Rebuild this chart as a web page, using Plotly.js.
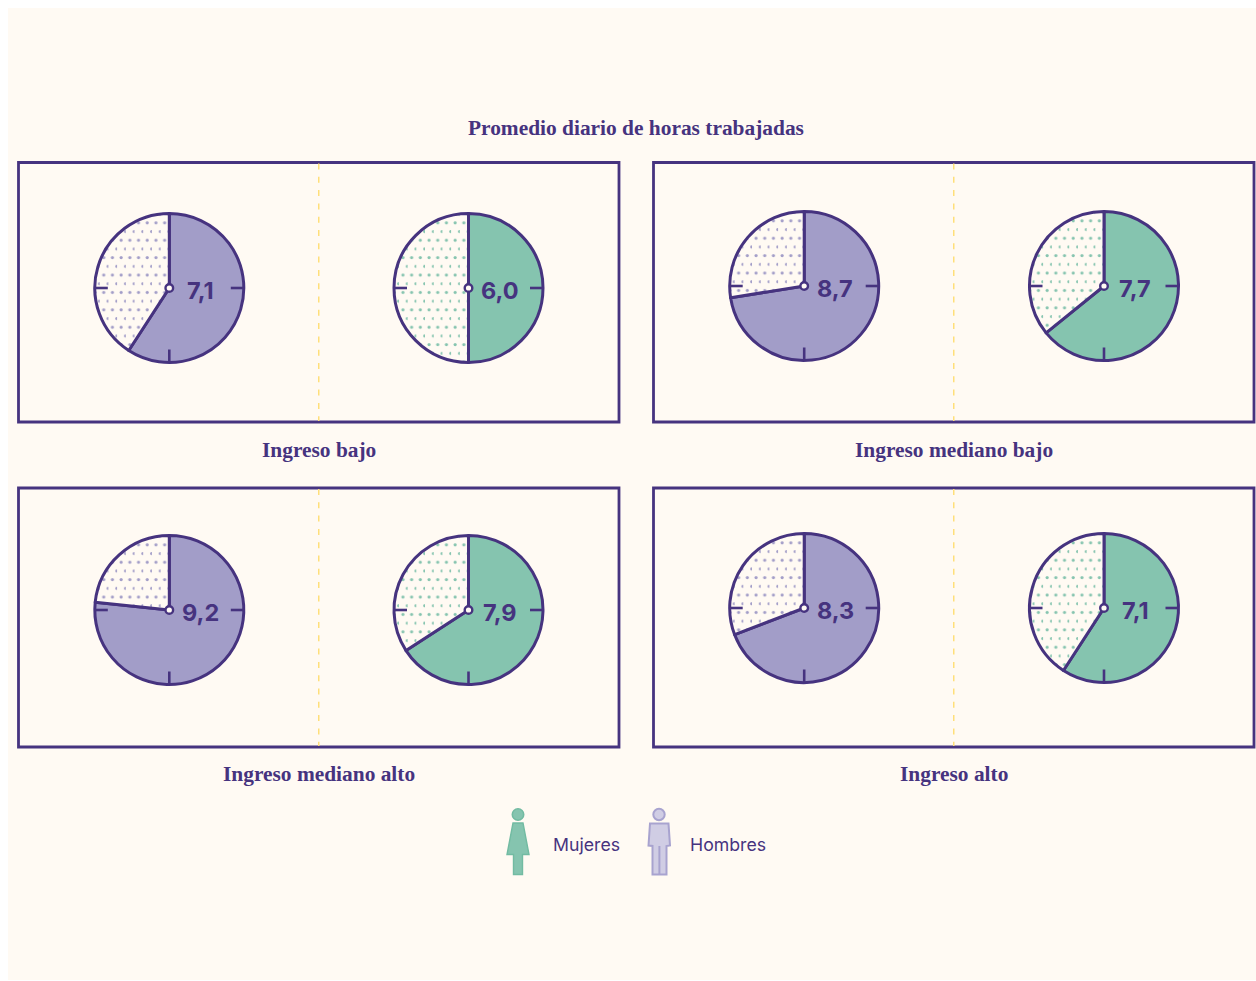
<!DOCTYPE html>
<html lang="es">
<head>
<meta charset="utf-8">
<title>Promedio diario de horas trabajadas</title>
<script src="https://cdn.plot.ly/plotly-3.0.1.min.js"></script>
<style>html,body{margin:0;padding:0;background:#fff}</style>
</head>
<body>
<div id="chart" style="width:1256px;height:981px"></div>
<script>
// Hours worked per day, by income group
const groups = ['Ingreso bajo', 'Ingreso mediano bajo', 'Ingreso mediano alto', 'Ingreso alto'];
const menHours = [7.1, 8.7, 9.2, 8.3];
const womenHours = [6.0, 7.7, 7.9, 7.1];
const hoursOnDial = 12;
const chartTitle = 'Promedio diario de horas trabajadas';
const legendLabels = ['Mujeres', 'Hombres'];

// Page geometry, in pixels
const W = 1256, H = 981;
const PURPLE = '#46337f', LAVENDER = '#a29dc8', GREEN = '#85c4af', CREAM = '#fffaf3';
const panels = [
  {x0: 18.5, x1: 619, y0: 162.5, y1: 422, labelY: 449.5, men: [169.3, 288], women: [468.5, 288]},
  {x0: 653.5, x1: 1254, y0: 162.5, y1: 422, labelY: 449.5, men: [804.2, 286], women: [1104, 286]},
  {x0: 18.5, x1: 619, y0: 488, y1: 747, labelY: 773.5, men: [169.3, 610], women: [468.5, 610]},
  {x0: 653.5, x1: 1254, y0: 488, y1: 747, labelY: 773.5, men: [804.2, 608], women: [1104, 608]}
];
const R = 74.5;
const DOT_STEP = 8.7;
const SERIF = '"Liberation Serif", serif';
const SANS = '"Inter", sans-serif';

const px = x => x / W;
const py = y => 1 - y / H;
const paper = {xref: 'paper', yref: 'paper'};

const line = (x0, y0, x1, y1, color, width, dash) => ({
  type: 'line', ...paper, layer: 'above',
  x0: px(x0), x1: px(x1), y0: py(y0), y1: py(y1),
  line: {color, width, dash: dash || 'solid'}
});
const rect = (x0, y0, x1, y1, fill, stroke, width, layer) => ({
  type: 'rect', ...paper, layer: layer || 'below',
  x0: px(x0), x1: px(x1), y0: py(y0), y1: py(y1),
  fillcolor: fill, line: {color: stroke, width}
});
const circle = (cx, cy, r, fill, stroke, width) => ({
  type: 'circle', ...paper, layer: 'above',
  x0: px(cx - r), x1: px(cx + r), y0: py(cy - r), y1: py(cy + r),
  fillcolor: fill, line: {color: stroke, width}
});
const polygon = (pts, fill, stroke, width) => ({
  type: 'path', ...paper, layer: 'above',
  path: 'M' + pts.map(p => px(p[0]) + ',' + py(p[1])).join('L') + 'Z',
  fillcolor: fill, line: {color: stroke, width}
});
const text = (x, y, str, font, extra) => Object.assign({
  ...paper, x: px(x), y: py(y), text: str, showarrow: false,
  xanchor: 'center', yanchor: 'middle', font
}, extra || {});

const traces = [], shapes = [], annotations = [];

// Page background
shapes.push(rect(8, 8, W, 980, CREAM, CREAM, 0));

function addDial(center, hours, color) {
  const [cx, cy] = center;
  traces.push({
    type: 'pie',
    values: [hours, hoursOnDial - hours],
    sort: false,
    direction: 'clockwise',
    rotation: 0,
    textinfo: 'none',
    hoverinfo: 'skip',
    showlegend: false,
    domain: {x: [px(cx - R), px(cx + R)], y: [py(cy + R), py(cy - R)]},
    marker: {
      colors: [color, CREAM],
      line: {color: PURPLE, width: 3},
      pattern: {shape: ['', '.'], fgcolor: color, bgcolor: CREAM, size: DOT_STEP, solidity: 0.105, fillmode: 'replace'}
    }
  });
  // Ticks at 3, 6 and 9 o'clock
  shapes.push(line(cx + R - 13, cy, cx + R, cy, PURPLE, 2.6));
  shapes.push(line(cx, cy + R - 13, cx, cy + R, PURPLE, 2.6));
  shapes.push(line(cx - R, cy, cx - R + 13, cy, PURPLE, 2.6));
  // Hub
  shapes.push(circle(cx, cy, 3.8, CREAM, PURPLE, 2.4));
  // Value
  annotations.push(text(cx + 31, cy + 2, hours.toFixed(1).replace('.', ','),
    {family: SANS, size: 23.5, color: PURPLE, weight: 700}));
}

groups.forEach((g, i) => {
  const p = panels[i];
  const mid = (p.x0 + p.x1) / 2;
  shapes.push(rect(p.x0, p.y0, p.x1, p.y1, 'rgba(0,0,0,0)', PURPLE, 2.8));
  shapes.push(line(mid, p.y0 + 1, mid, p.y1 - 1, '#ffdf7a', 1.5, '6px,7.3px'));
  addDial(p.men, menHours[i], LAVENDER);
  addDial(p.women, womenHours[i], GREEN);
  annotations.push(text(mid, p.labelY, g, {family: SERIF, size: 21.4, color: PURPLE, weight: 700}));
});

annotations.push(text(636, 128, chartTitle, {family: SERIF, size: 21.4, color: PURPLE, weight: 700}));

// Legend figures
const womanFill = '#85c4af', womanEdge = '#72bba2';
const manFill = '#d0cde4', manEdge = '#a8a3cf';
shapes.push(circle(518, 814.5, 5.7, womanFill, womanEdge, 1.6));
shapes.push(polygon([[513, 823], [523, 823], [529, 854.5], [522.5, 854.5], [522.5, 874.5], [513.5, 874.5], [513.5, 854.5], [507, 854.5]], womanFill, womanEdge, 1.4));
shapes.push(circle(659, 814.5, 5.7, manFill, manEdge, 2));
shapes.push(polygon([[650, 823.5], [668.5, 823.5], [670, 845.5], [666.5, 846], [666.5, 874.5], [652.5, 874.5], [652.5, 846], [648.5, 845.5]], manFill, manEdge, 2));
shapes.push(line(659.4, 846, 659.4, 874, manEdge, 2));
annotations.push(text(551, 844, legendLabels[0], {family: SANS, size: 17.7, color: PURPLE}, {xanchor: 'left'}));
annotations.push(text(688, 844, legendLabels[1], {family: SANS, size: 17.7, color: PURPLE}, {xanchor: 'left'}));

const layout = {
  width: W, height: H,
  margin: {l: 0, r: 0, t: 0, b: 0},
  paper_bgcolor: '#ffffff',
  showlegend: false,
  shapes, annotations
};

// Turn each dot tile into a staggered one: every other row sits half a step over,
// with the lattice anchored on the centre of its dial.
function staggerDots(chart) {
  chart.querySelectorAll('.pielayer .slice path').forEach(slice => {
    const ref = /url\(["']?#([^"')]+)["']?\)/.exec(slice.style.fill || slice.getAttribute('fill') || '');
    if (!ref) return;
    const tile = document.getElementById(ref[1]);
    const dot = tile && tile.querySelector('circle');
    if (!dot) return;
    const start = /M\s*(-?[\d.]+)[ ,]+(-?[\d.]+)/.exec(slice.getAttribute('d'));
    const s = DOT_STEP;
    tile.setAttribute('width', s);
    tile.setAttribute('height', 2 * s);
    const bg = tile.querySelector('rect');
    if (bg) { bg.setAttribute('width', s); bg.setAttribute('height', 2 * s); }
    dot.setAttribute('cx', s * 0.465);
    dot.setAttribute('cy', s * 0.505);
    const other = dot.cloneNode(true);
    other.setAttribute('cx', s * 0.965);
    other.setAttribute('cy', s * 1.505);
    tile.appendChild(other);
    if (start) tile.setAttribute('patternTransform', 'translate(' + start[1] + ',' + start[2] + ')');
  });
}

const chart = document.getElementById('chart');
Plotly.newPlot(chart, traces, layout, {displayModeBar: false, staticPlot: true}).then(() => staggerDots(chart));
</script>
</body>
</html>
